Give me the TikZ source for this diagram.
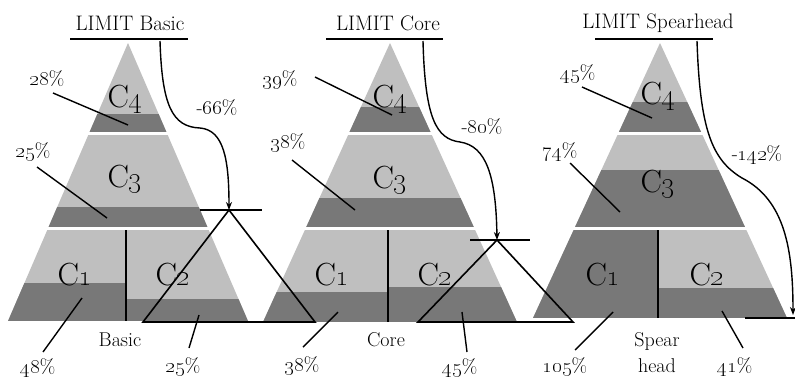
\documentclass[tikz,border=0pt]{standalone}
\usetikzlibrary{arrows.meta}
\definecolor{pyrlight}{RGB}{191,191,191}
\definecolor{pyrdark}{RGB}{120,120,120}
\tikzset{ttl/.style={font=\fontsize{21}{23}\selectfont,inner sep=1pt},
         uline/.style={line width=2.5pt},
         lab/.style={font=\fontsize{20}{26}\selectfont,inner sep=1pt},
         clab/.style={font=\fontsize{32}{32}\selectfont,inner sep=0pt,anchor=base},
         leader/.style={line width=1.4pt},
         tri/.style={line width=1.6pt},
         curv/.style={line width=1.4pt,-{Stealth[length=8pt,width=6pt]}},
         divline/.style={line width=1.2pt}}
% apex x, half base, base y, dark tops C4/C3/C1/C2, divider x
\newcommand{\drawpyr}[8]{%
  \begin{scope}
    \clip (#1,43) -- ({#1-#2},#3) -- ({#1+#2},#3) -- cycle;
    \fill[pyrlight] ({#1-150},40) rectangle ({#1+150},132);
    \fill[pyrdark] ({#1-150},#4) rectangle ({#1+150},132);
    \fill[pyrlight] ({#1-150},135) rectangle ({#1+150},227);
    \fill[pyrdark] ({#1-150},#5) rectangle ({#1+150},227);
    \fill[pyrlight] ({#1-150},230) rectangle ({#1+150},#3);
    \fill[pyrdark] ({#1-150},#6) rectangle (#8,#3);
    \fill[pyrdark] (#8,#7) rectangle ({#1+150},#3);
  \end{scope}
  \draw[divline] (#8,230) -- (#8,#3);}
\newcommand{\pct}[1]{\oldstylenums{#1}\%}

\begin{document}
\begin{tikzpicture}[x=1pt,y=-1pt]
  \useasboundingbox (0,0) rectangle (795,378);
  % titles
  \foreach \cx/\nm/\ul/\ur in {130/Basic/70/188,388/Core/326/443,658/Spearhead/595/713}{
    \node[ttl] (t\nm) at (\cx,23) {LIMIT \nm};
    \draw[uline] (\ul,39) -- (\ur,39);}
  % pyramids
  \drawpyr{128}{120}{321}{114}{207}{283}{299}{126}
  \drawpyr{390}{127}{322}{107}{198}{292}{287}{388}
  \drawpyr{660}{127}{318}{102}{170}{230}{288}{658}
  \foreach \cx/\p/\yf/\yt in {125/b/107/187,390/c/107/188,658/s/104/192}{
    \node[clab] (\p4) at (\cx,\yf) {C\oldstylenums{4}};
    \node[clab] (\p3) at (\cx,\yt) {C\oldstylenums{3}};}
  \foreach \p/\xa/\xb/\yb in {b/75/173/285,c/332/435/285,s/603/707/285}{
    \node[clab] (\p1) at (\xa,\yb) {C\oldstylenums{1}};
    \node[clab] (\p2) at (\xb,\yb) {C\oldstylenums{2}};}
  % triangles and ticks
  \coordinate (tb) at (229,210); \coordinate (tbl) at (143,322); \coordinate (tbr) at (315,322);
  \coordinate (tc) at (497,240); \coordinate (tcl) at (418,322); \coordinate (tcr) at (573,322);
  \coordinate (ts) at (793,318);
  \draw[tri] (tb) -- (tbl) -- (tbr) -- cycle;
  \draw[tri] (tc) -- (tcl) -- (tcr) -- cycle;
  \draw[tri] ([xshift=-29pt]tb) -- ([xshift=33pt]tb);
  \draw[tri] ([xshift=-27pt]tc) -- ([xshift=33pt]tc);
  \draw[tri] ([xshift=-48pt]ts) -- ([xshift=2pt]ts);
  % curved arrows
  \coordinate (ab) at (160,41); \coordinate (ac) at (423,41); \coordinate (as) at (697,41);
  \draw[curv] (ab) .. controls (162,105) and (172,127) .. (200,128)
              .. controls (224,130) and (229,160) .. (tb);
  \draw[curv] (ac) .. controls (425,118) and (436,139) .. (460,142)
              .. controls (486,146) and (496,175) .. (tc);
  \draw[curv] (as) .. controls (700,130) and (712,160) .. (742,178)
              .. controls (785,200) and (793,250) .. ([yshift=3pt]ts);
  % labels
  \node[lab] (db) at (217,108) {-\pct{66}};
  \node[lab] (dc) at (482,127) {-\pct{80}};
  \node[lab] (ds) at (757,155) {-\pct{142}};
  \node[lab] (nb) at (120,340) {Basic};
  \node[lab] (nc) at (386,340) {Core};
  \node[lab,align=center] (ns) at (657,353) {Spear\\head};
  \node[lab] (lb4) at (47,79) {\pct{28}};
  \node[lab] (lb3) at (33,152) {\pct{25}};
  \node[lab] (lb1) at (38,368) {\pct{48}};
  \node[lab] (lb2) at (183,367) {\pct{25}};
  \node[lab] (lc4) at (280,80) {\pct{39}};
  \node[lab] (lc3) at (288,143) {\pct{38}};
  \node[lab] (lc1) at (302,366) {\pct{38}};
  \node[lab] (lc2) at (460,368) {\pct{45}};
  \node[lab] (ls4) at (578,74) {\pct{45}};
  \node[lab] (ls3) at (560,152) {\pct{74}};
  \node[lab] (ls1) at (565,367) {\pct{105}};
  \node[lab] (ls2) at (735,367) {\pct{41}};
  % leader ends
  \coordinate (eb4) at (128,125); \coordinate (eb3) at (107,218);
  \coordinate (eb1) at (82,298);  \coordinate (eb2) at (199,315);
  \coordinate (ec4) at (392,115); \coordinate (ec3) at (355,210);
  \coordinate (ec1) at (338,312); \coordinate (ec2) at (462,312);
  \coordinate (es4) at (652,118); \coordinate (es3) at (620,212);
  \coordinate (es1) at (613,312); \coordinate (es2) at (722,311);
  \draw[leader] ([xshift=6pt,yshift=-14pt]lb4.center) -- (eb4);
  \draw[leader] ([xshift=4pt,yshift=-15pt]lb3.center) -- (eb3);
  \draw[leader] ([xshift=5pt,yshift=16pt]lb1.center) -- (eb1);
  \draw[leader] ([xshift=6pt,yshift=19pt]lb2.center) -- (eb2);
  \draw[leader] ([xshift=35pt,yshift=3pt]lc4.center) -- (ec4);
  \draw[leader] ([xshift=4pt,yshift=-17pt]lc3.center) -- (ec3);
  \draw[leader] ([xshift=1pt,yshift=19pt]lc1.center) -- (ec1);
  \draw[leader] ([xshift=7pt,yshift=16pt]lc2.center) -- (ec2);
  \draw[leader] ([xshift=4pt,yshift=-13pt]ls4.center) -- (es4);
  \draw[leader] ([xshift=10pt,yshift=-11pt]ls3.center) -- (es3);
  \draw[leader] ([xshift=10pt,yshift=17pt]ls1.center) -- (es1);
  \draw[leader] ([xshift=8pt,yshift=19pt]ls2.center) -- (es2);
\end{tikzpicture}
\end{document}
